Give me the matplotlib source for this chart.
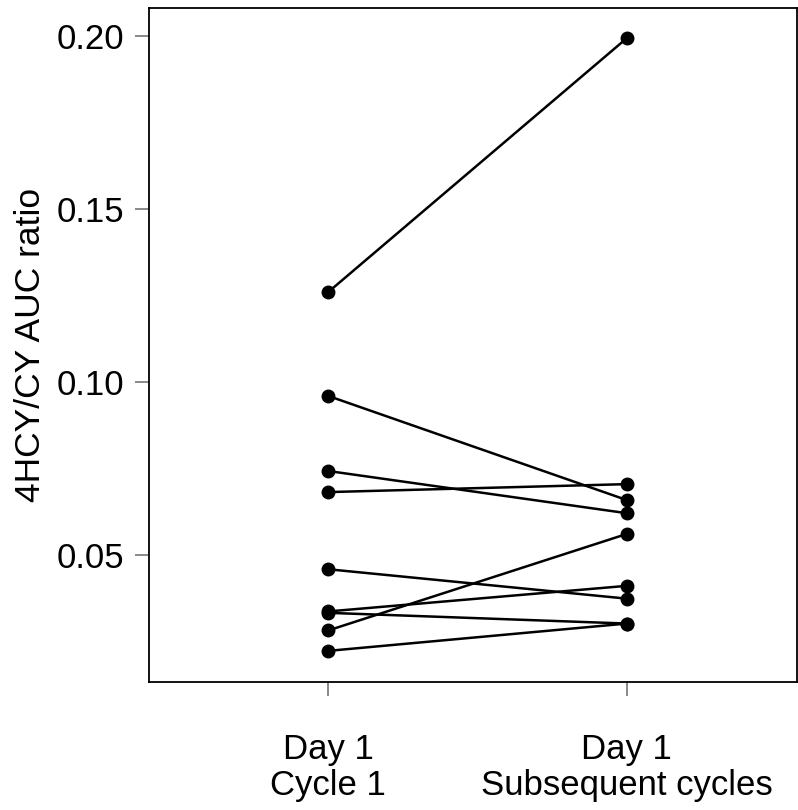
import matplotlib
matplotlib.use("Agg")
import matplotlib.pyplot as plt

plt.rcParams["font.family"] = ["Liberation Sans", "DejaVu Sans"]

# paired values: Day 1 Cycle 1 -> Day 1 Subsequent cycles
cycle1 = [0.126, 0.096, 0.0743, 0.0682, 0.0459, 0.0337, 0.0333, 0.0282, 0.0223]
subsequent = [0.1994, 0.0659, 0.0621, 0.0705, 0.0374, 0.0411, 0.0302, 0.0561, 0.0302]
groups = ["Day 1\nCycle 1", "Day 1\nSubsequent cycles"]
y_ticks = [0.05, 0.10, 0.15, 0.20]

fig = plt.figure(figsize=(7.98, 8.10), dpi=100)
ax = fig.add_axes([0.1867, 0.158, 0.8120, 0.832])

for a, b in zip(cycle1, subsequent):
    ax.plot([1, 2], [a, b], color="black", linewidth=1.8,
            marker="o", markersize=9, markerfacecolor="black",
            markeredgecolor="black")

ax.set_xlim(0.40, 2.57)
ax.set_ylim(0.0133, 0.2081)
ax.set_xticks([1, 2])
ax.set_xticklabels(groups, linespacing=1.1)
ax.set_yticks(y_ticks)
ax.set_yticklabels([f"{t:.2f}" for t in y_ticks])
ax.set_ylabel("4HCY/CY AUC ratio", fontsize=25.5, labelpad=7)

for s in ax.spines.values():
    s.set_linewidth(1.3)
    s.set_color("black")

ax.tick_params(axis="both", direction="out", length=10, width=1.3,
               color="#808080", labelsize=25)
ax.tick_params(axis="x", pad=27)
ax.tick_params(axis="y", pad=8)

fig.savefig("out.png", dpi=100)
